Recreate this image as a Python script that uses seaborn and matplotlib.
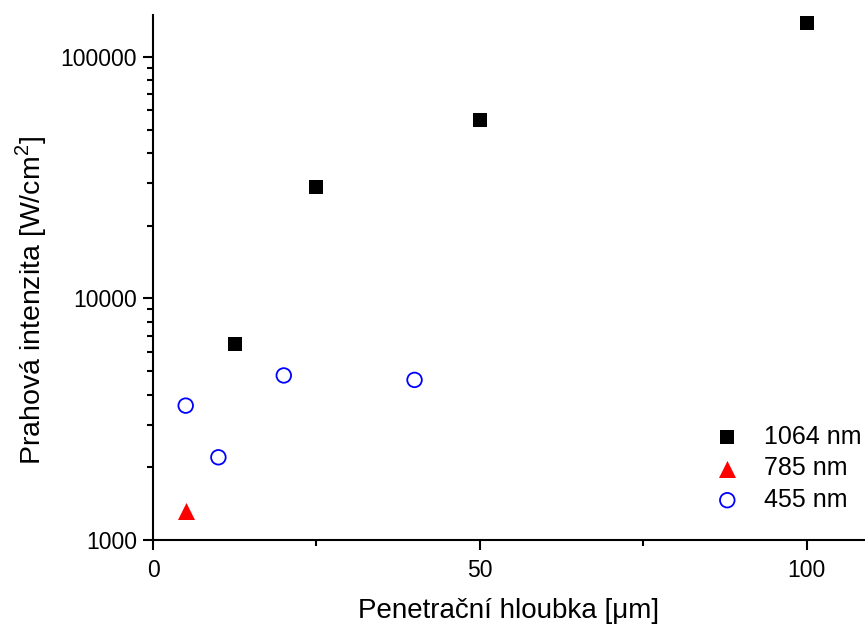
import matplotlib
matplotlib.use("Agg")
import matplotlib.pyplot as plt
import matplotlib.ticker as mticker
import seaborn as sns
import pandas as pd

# Threshold intensity vs. penetration depth for three laser wavelengths
depth_1064 = [12.5, 25, 50, 100]
intensity_1064 = [6500, 29000, 55000, 138000]

depth_785 = [5]
intensity_785 = [1320]

depth_455 = [5, 10, 20, 40]
intensity_455 = [3600, 2200, 4800, 4600]

series_labels = ["1064 nm", "785 nm", "455 nm"]
x_ticks = [0, 50, 100]
y_ticks = [1000, 10000, 100000]

sns.set_style("ticks")
plt.rcParams["font.family"] = ["Liberation Sans", "DejaVu Sans"]
plt.rcParams["mathtext.fontset"] = "custom"
plt.rcParams["mathtext.rm"] = "Liberation Sans"
plt.rcParams["text.color"] = "black"
plt.rcParams["axes.labelcolor"] = "black"
plt.rcParams["xtick.color"] = "black"
plt.rcParams["ytick.color"] = "black"
plt.rcParams["axes.edgecolor"] = "black"

fig = plt.figure(figsize=(8.65, 6.28), dpi=100)
ax = fig.add_axes([0.1769, 0.1401, 0.8231, 0.8360])

df_1064 = pd.DataFrame({"x": depth_1064, "y": intensity_1064})
df_785 = pd.DataFrame({"x": depth_785, "y": intensity_785})
df_455 = pd.DataFrame({"x": depth_455, "y": intensity_455})

sns.scatterplot(data=df_1064, x="x", y="y", ax=ax, marker="s", s=110,
                color="black", edgecolor="black", linewidth=0, label=series_labels[0])
sns.scatterplot(data=df_785, x="x", y="y", ax=ax, marker="^", s=150,
                color="red", edgecolor="red", linewidth=0, label=series_labels[1])
sns.scatterplot(data=df_455, x="x", y="y", ax=ax, marker="o", s=110,
                facecolor="none", edgecolor="blue", linewidth=1.3, label=series_labels[2])

ax.set_yscale("log")
ax.set_xlim(0, 108.9)
ax.set_ylim(1000, 149000)
ax.set_xticks(x_ticks)
ax.xaxis.set_minor_locator(mticker.MultipleLocator(25))
ax.set_yticks(y_ticks)
ax.yaxis.set_major_formatter(mticker.FuncFormatter(lambda v, p: f"{int(round(v))}"))
ax.yaxis.set_minor_locator(mticker.LogLocator(base=10, subs=range(2, 10)))
ax.yaxis.set_minor_formatter(mticker.NullFormatter())

for side in ["top", "right"]:
    ax.spines[side].set_visible(False)
for side in ["left", "bottom"]:
    ax.spines[side].set_linewidth(1.5)

ax.tick_params(which="major", direction="out", length=7.5, width=1.5, labelsize=16.5)
ax.tick_params(axis="x", which="major", pad=6)
ax.tick_params(axis="y", which="major", pad=4)
ax.tick_params(which="minor", direction="out", length=4, width=1.5)

ax.set_xlabel("Penetrační hloubka [μm]", fontsize=20)
ax.set_ylabel("Prahová intenzita [W/cm$^2$]", fontsize=20.5)
ax.xaxis.set_label_coords(0.5, -0.111)
ax.yaxis.set_label_coords(-0.146, 0.457)

leg = ax.legend(loc="lower right", bbox_to_anchor=(1.012, 0.03), frameon=False,
                fontsize=18, handletextpad=0.8, labelspacing=0.3,
                borderaxespad=0.1, handlelength=1.3)

fig.savefig("out.png", dpi=100)
